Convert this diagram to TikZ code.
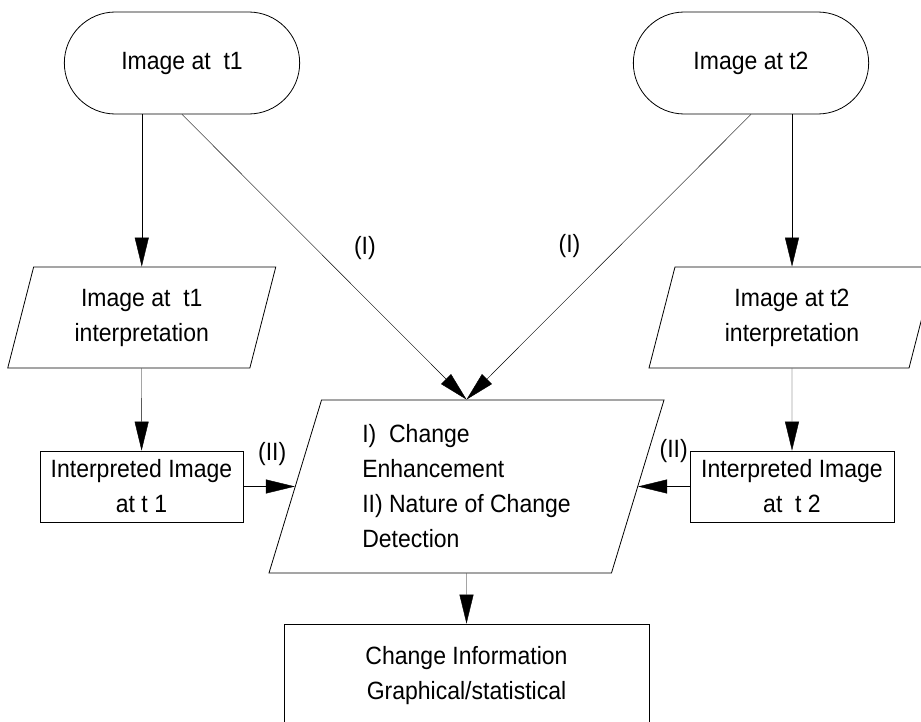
\documentclass[tikz,border=0pt]{standalone}
\usepackage{fontspec}
\setmainfont[FakeStretch=0.92]{Liberation Sans}
\usepackage{tikz}
\usetikzlibrary{positioning,arrows.meta,shapes.geometric,shapes.misc}
\tikzset{>={Triangle[length=29pt,width=14pt]}, line width=0.8pt,
  every node/.style={font=\fontsize{25}{35}\selectfont, line width=0.8pt},
  term/.style={draw, rounded rectangle, minimum width=242pt, minimum height=102pt},
  pgram/.style={draw, trapezium, trapezium left angle=68, trapezium right angle=112,
    trapezium stretches body=true, align=center},
  box/.style={draw, rectangle, align=center}}

\begin{document}
\begin{tikzpicture}[x=1pt, y=-1pt]
  \useasboundingbox (0,0) rectangle (921,722);

  \node (t1) [term] at (182,63) {Image at\ \ t1};
  \node (t2) [term] at (751,63) {Image at t2};

  \node (t1interp) [pgram, minimum width=268pt, minimum height=101pt] at (141.75,317.5)
    {Image at\ \ t1\\interpretation};
  \node (t2interp) [pgram, minimum width=286pt, minimum height=101pt] at (792,317.5)
    {Image at t2\\interpretation};

  \node (int1) [box, minimum width=203pt, minimum height=71pt] at (141.5,486.5)
    {Interpreted Image\\at t 1};
  \node (int2) [box, minimum width=204pt, minimum height=71pt] at (792,486.5)
    {Interpreted Image\\at\ \ t 2};

  \node (change) [pgram, align=left, minimum width=395pt, minimum height=173pt] at (466.5,486.5)
    {I)\ \ Change\\Enhancement\\II) Nature of Change\\Detection};

  \node (info) [box, minimum width=365pt, minimum height=104pt] at (466.5,676)
    {Change Information\\Graphical/statistical};

  \draw [->] (t1interp.north |- t1.south) to (t1interp.north);
  \draw [->] (t2interp.north |- t2.south) to (t2interp.north);
  \draw [->] (t1interp.south) to (int1);
  \draw [->] (t2interp.south) to (int2);

  \draw [->] (t1.south) to node [pos=0.555, xshift=25pt, yshift=25pt] (lblI1) {(I)} (change.north);
  \draw [->] (t2.south) to node [pos=0.55, xshift=-25pt, yshift=25pt] (lblI2) {(I)} (change.north);

  \draw [->] (int1) to node [pos=0.56, yshift=32.5pt] (lblII1) {(II)} (change.left side);
  \draw [->] (int2) to node [pos=0.31, yshift=35pt] (lblII2) {(II)} (change.right side);

  \draw [->] (change.south) to (info);
\end{tikzpicture}
\end{document}
